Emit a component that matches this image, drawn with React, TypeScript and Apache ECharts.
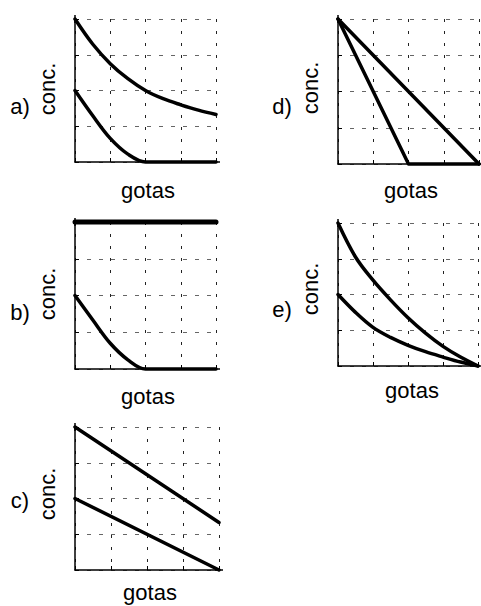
import React, { useEffect, useRef } from "react";
import * as echarts from "echarts";

// ---- texts ----
const panelLabels = ["a)", "b)", "c)", "d)", "e)"];
const yAxisName = "conc.";
const xAxisName = "gotas";

// ---- data (x in "gotas" units 0..4, y in "conc." units 0..4) ----
const xSteps = [0, 0.5, 1, 1.5, 2, 2.5, 3, 3.5, 4];
const aUpper = [4, 3.3, 2.75, 2.33, 2.0, 1.77, 1.6, 1.45, 1.33];
const aLower = [2, 1.3, 0.66, 0.22, 0, 0, 0, 0, 0];
const bUpper = [4, 4, 4, 4, 4, 4, 4, 4, 4];
const bLower = [2, 1.34, 0.7, 0.25, 0, 0, 0, 0, 0];
const cX = [0, 4];
const cUpper = [4, 1.33];
const cLower = [2, 0];
const dX = [0, 2, 4];
const dSteep = [4, 0, 0];
const dDiag = [4, 2, 0];
const eUpper = [4, 3.05, 2.4, 1.85, 1.35, 0.92, 0.55, 0.25, 0];
const eLower = [2, 1.5, 1.08, 0.8, 0.58, 0.4, 0.25, 0.11, 0];

const panels = [
  { lines: [{ x: xSteps, y: aUpper }, { x: xSteps, y: aLower }], smooth: true },
  { lines: [{ x: xSteps, y: bUpper, thick: true }, { x: xSteps, y: bLower }], smooth: true },
  { lines: [{ x: cX, y: cUpper }, { x: cX, y: cLower }], smooth: false },
  { lines: [{ x: dX, y: dSteep }, { x: dX, y: dDiag }], smooth: false },
  { lines: [{ x: xSteps, y: eUpper }, { x: xSteps, y: eLower }], smooth: true },
];

// ---- layout ----
const layout = [
  { left: 75, top: 19, width: 141, height: 143, lab: [20, 106], conc: [47, 89], gotas: [148, 190] },
  { left: 75, top: 222, width: 141, height: 147, lab: [20, 312], conc: [47, 294], gotas: [148, 396] },
  { left: 75, top: 427, width: 144, height: 143, lab: [20, 500], conc: [47, 494], gotas: [150, 592] },
  { left: 338, top: 19, width: 141, height: 145, lab: [282, 106], conc: [310, 88], gotas: [411, 190] },
  { left: 338, top: 223, width: 140, height: 143, lab: [282, 309], conc: [310, 289], gotas: [412, 390] },
];

const FONT = "22px 'Liberation Sans', Arial, Helvetica, sans-serif";

export default function App() {
  const ref = useRef<HTMLDivElement>(null);
  useEffect(() => {
    if (!ref.current) return;
    const chart = echarts.init(ref.current, null, { renderer: "svg" });
    const grid = layout.map((l) => ({ left: l.left, top: l.top, width: l.width, height: l.height }));
    const axisCommon = {
      type: "value" as const,
      min: 0,
      max: 4,
      interval: 1,
      axisLabel: { show: false },
      axisTick: { show: true, inside: true, length: 4, lineStyle: { color: "#000", width: 1 } },
      axisLine: {
        show: true,
        symbol: ["none", "rect"],
        symbolSize: [1.5, 8],
        lineStyle: { color: "#000", width: 1.5 },
      },
    };
    const xAxis = layout.map((_, i) => ({
      ...axisCommon,
      gridIndex: i,
      splitLine: { show: true, lineStyle: { color: "#222", width: 1, type: [3, 9] } },
    }));
    const yAxis = layout.map((_, i) => ({
      ...axisCommon,
      gridIndex: i,
      splitLine: { show: true, lineStyle: { color: "#666", width: 1, type: [4, 8] } },
    }));
    const series: any[] = [];
    panels.forEach((p, i) => {
      p.lines.forEach((ln: any) => {
        series.push({
          type: "line",
          xAxisIndex: i,
          yAxisIndex: i,
          data: ln.x.map((x: number, j: number) => [x, ln.y[j]]),
          smooth: p.smooth ? 0.35 : false,
          showSymbol: false,
          symbol: "none",
          clip: false,
          lineStyle: { color: "#000", width: ln.thick ? 5 : 3.5, cap: "round", join: "round" },
          z: 5,
        });
      });
    });
    const graphic: any[] = [];
    layout.forEach((l, i) => {
      graphic.push({
        type: "text",
        x: l.lab[0],
        y: l.lab[1],
        style: { text: panelLabels[i], font: FONT, fill: "#000", align: "center", verticalAlign: "middle" },
      });
      graphic.push({
        type: "text",
        x: l.conc[0],
        y: l.conc[1],
        rotation: Math.PI / 2,
        style: { text: yAxisName, font: FONT, fill: "#000", align: "center", verticalAlign: "middle" },
      });
      graphic.push({
        type: "text",
        x: l.gotas[0],
        y: l.gotas[1],
        style: { text: xAxisName, font: FONT, fill: "#000", align: "center", verticalAlign: "middle" },
      });
    });
    chart.setOption({
      animation: false,
      backgroundColor: "#fff",
      grid,
      xAxis,
      yAxis,
      series,
      graphic,
    });
    return () => chart.dispose();
  }, []);
  return (
    <div
      ref={ref}
      style={{ position: "absolute", left: 0, top: 0, width: 481, height: 606, background: "#fff" }}
    />
  );
}
